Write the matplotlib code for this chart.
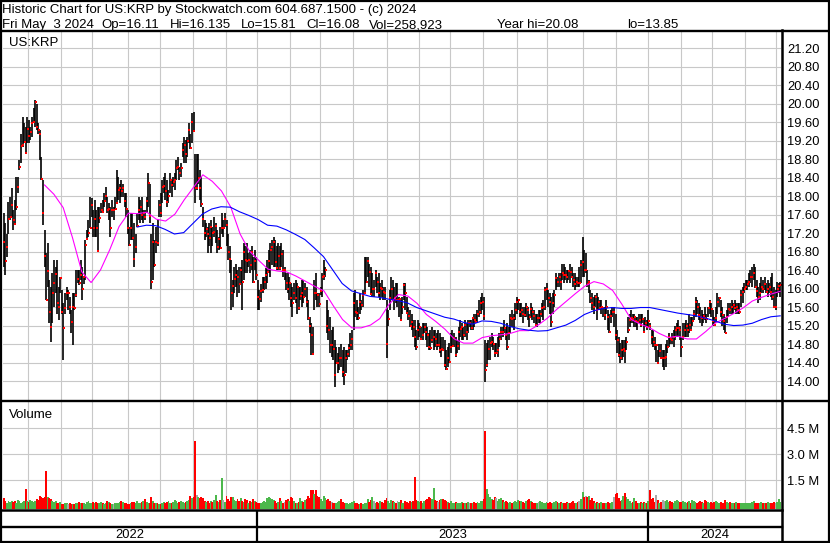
import numpy as np
import matplotlib
matplotlib.use("Agg")
import matplotlib.pyplot as plt
from matplotlib.patches import Rectangle

plt.rcParams['font.family'] = ['Liberation Sans', 'DejaVu Sans']

# ---------------- data ----------------
title1 = "Historic Chart for US:KRP by Stockwatch.com 604.687.1500 - (c) 2024"
# second header line, field by field with its left edge in pixels
title2 = [("Fri May  3 2024", 2), ("Op=16.11", 101), ("Hi=16.135", 170),
          ("Lo=15.81", 241), ("Cl=16.08", 306), ("Vol=258,923", 369),
          ("Year hi=20.08", 497), ("lo=13.85", 627)]
symbol = "US:KRP"

# trading days per month, May 2022 (partial) .. May 2024 (partial)
month_days = [16, 21, 20, 23, 20, 21, 21, 20,
              21, 19, 21, 22, 20, 20, 21, 22, 19, 23, 21, 20,
              21, 20, 21, 20, 3]
years = ['2022', '2023', '2024']
year_first_month = [0, 8, 20]

# daily high / low / close
hi = [17.63, 17.41, 17.19, 17.88, 17.99, 18.17, 17.70, 17.91, 18.42, 18.42,
      18.78, 19.35, 19.72, 19.57, 19.50, 19.72, 19.64, 19.50, 19.72, 19.90,
      20.08, 20.00, 19.57, 19.43, 18.85, 18.35, 17.27, 16.76, 16.98, 16.18,
      16.04, 16.33, 16.62, 16.47, 16.62, 16.04, 16.25, 15.97, 15.68, 15.90,
      16.04, 15.97, 15.82, 15.53, 15.90, 15.90, 16.40, 16.40, 16.40, 16.62,
      16.47, 16.26, 17.05, 17.27, 17.48, 17.99, 17.95, 17.70, 17.91, 17.70,
      17.77, 17.77, 17.84, 17.91, 18.06, 18.20, 17.99, 17.84, 17.77, 17.91,
      17.77, 17.99, 18.56, 18.42, 18.27, 18.35, 18.27, 18.06, 18.06, 17.70,
      17.34, 17.63, 17.63,
      17.41, 17.19, 17.63, 17.99, 17.91, 17.99, 17.70,
      17.70, 17.99, 18.49, 18.27, 17.19, 17.41, 17.05, 17.34, 17.48, 17.91,
      18.06, 18.35, 18.42, 18.49, 18.35, 18.13, 18.49, 18.35, 18.42, 18.49,
      18.78, 18.85, 18.63, 18.71, 19.14, 19.28, 19.21, 19.28, 19.57, 19.35,
      19.79, 19.82, 18.92, 18.92, 18.92, 18.56, 18.42, 17.77, 17.48, 17.41,
      17.34, 17.41, 17.48, 17.34, 17.55, 17.41, 17.27, 17.12, 17.34, 17.63,
      17.48, 17.63, 17.48, 17.19, 16.91, 16.62, 16.18, 16.47, 16.54, 16.40,
      16.47, 16.47, 16.62, 16.98, 16.91, 16.98, 16.76, 16.83, 16.91, 16.69,
      16.83, 16.69, 16.18,
      15.97, 16.10, 16.26, 16.26, 16.45, 16.62, 16.83,
      16.98, 17.05, 17.12, 17.05, 16.91, 16.98, 16.91, 16.98, 16.83, 16.47,
      16.33, 16.33, 16.26, 16.11, 16.04, 16.11, 16.18, 16.11, 16.04, 16.04,
      16.18, 16.18, 16.11, 16.04, 15.75, 15.39, 15.25, 15.17, 16.18, 16.33,
      15.90, 15.90, 16.04, 16.33, 16.62, 16.47, 15.75, 15.54, 15.39, 15.10,
      15.17, 14.89, 14.74, 14.60, 14.74, 14.81, 14.67, 14.74, 14.67, 14.67,
      14.81, 15.03, 15.10, 15.90, 15.97, 15.75, 15.61, 15.90, 15.75, 15.97,
      16.69, 16.69, 16.69, 16.54, 16.47, 16.33, 16.18, 16.40, 16.26, 16.33,
      16.11, 16.18, 16.04, 16.04, 15.75, 15.54, 15.97, 16.26, 16.18,
      16.04, 16.11, 16.11, 15.82, 15.75, 15.82, 16.11, 16.11, 15.82, 15.61, 15.54,
      15.46, 15.32, 15.32, 15.10, 15.32, 15.25, 15.17, 15.25, 15.25, 15.25,
      15.17, 15.03, 15.10, 15.17, 15.10, 15.10, 15.03, 15.10, 15.03, 14.96,
      14.96, 14.89, 14.67, 14.74, 14.82, 15.03, 15.10, 15.03, 14.96, 14.89,
      15.17, 15.32, 15.25, 15.17, 15.32, 15.25, 15.32, 15.32, 15.32, 15.39,
      15.46, 15.46, 15.54, 15.75, 15.82, 15.90, 15.82, 14.89, 14.82, 14.89,
      14.96, 15.03, 14.96, 14.82, 14.82, 14.96, 15.03, 15.17, 15.17, 15.32,
      15.17, 15.25, 15.17, 15.46, 15.54, 15.46, 15.68, 15.82, 15.78, 15.68,
      15.68, 15.61, 15.61,
      15.68, 15.61, 15.46, 15.68, 15.61, 15.54, 15.46,
      15.46, 15.54, 15.54, 15.68, 15.75, 16.04, 16.11, 15.97, 15.90, 15.82,
      15.90, 15.97, 16.33, 16.26, 16.33, 16.33, 16.54, 16.54, 16.47, 16.40,
      16.40, 16.54, 16.47, 16.33, 16.33, 16.26, 16.26, 16.47, 16.62, 17.12,
      16.83, 16.76, 16.40, 16.18, 15.97, 15.90, 15.82, 15.85, 15.90, 15.82,
      15.75, 15.75, 15.61, 15.61, 15.75, 15.54, 15.46, 15.54, 15.61, 15.61,
      15.46, 15.10, 14.96, 14.82, 14.89, 14.89, 14.89, 14.96, 15.39, 15.46,
      15.54, 15.46, 15.46, 15.39, 15.39, 15.46, 15.46, 15.46, 15.32, 15.39,
      15.32, 15.54,
      15.25, 15.10, 15.10, 14.96, 14.81, 14.67, 14.81, 14.81,
      14.67, 14.67, 14.81, 14.89, 15.03, 14.96, 15.03, 15.10, 15.18, 15.25,
      15.32, 15.18, 14.96, 15.25, 15.25, 15.32, 15.25, 15.46, 15.39, 15.39,
      15.54, 15.82, 15.75, 15.68, 15.61, 15.54, 15.46, 15.61, 15.46, 15.61,
      15.75, 15.68, 15.54, 15.39, 15.61, 15.90, 15.82, 15.75, 15.61, 15.46,
      15.39, 15.54, 15.68, 15.68, 15.75, 15.68, 15.75, 15.68, 15.68, 15.68,
      15.97, 16.04, 16.11, 16.18, 16.18, 16.33, 16.40, 16.47, 16.54, 16.47,
      16.18, 16.04, 16.11, 16.26, 16.18, 16.26, 16.11, 16.18, 16.11, 16.26,
      16.33, 16.04, 15.97, 16.15, 16.11, 16.135]

lo = [16.47, 16.29, 16.69, 17.19, 17.48, 17.55, 17.27, 17.37, 17.70, 18.06,
      18.56, 18.71, 19.07, 19.14, 18.92, 19.14, 19.14, 19.21, 19.28, 19.57,
      19.50, 19.43, 19.35, 18.78, 18.35, 17.37, 16.47, 15.75, 16.04, 15.25,
      14.85, 15.25, 15.61, 15.90, 15.46, 15.32, 15.90, 15.46, 14.45, 15.46,
      15.75, 15.53, 15.46, 15.03, 14.78, 15.53, 15.82, 16.11, 16.08, 16.18,
      15.75, 16.10, 16.18, 17.05, 17.12, 17.30, 17.55, 17.12, 17.12, 17.12,
      16.80, 17.41, 17.63, 17.63, 17.77, 17.91, 17.63, 17.48, 17.12, 17.55,
      17.48, 17.70, 17.84, 17.91, 17.84, 17.99, 17.99, 17.77, 17.55, 17.19,
      16.91, 17.05, 17.05,
      16.47, 16.76, 17.34, 17.48, 17.41, 17.48, 17.41,
      17.48, 17.63, 17.77, 17.41, 16.00, 16.18, 16.47, 16.76, 16.91, 17.55,
      17.55, 17.84, 18.06, 17.91, 17.77, 17.84, 18.06, 17.99, 18.20, 18.13,
      18.35, 18.56, 18.35, 18.42, 18.85, 18.71, 18.71, 18.85, 19.14, 19.02,
      19.14, 19.40, 17.84, 18.13, 18.27, 17.91, 17.77, 17.34, 17.05, 17.12,
      16.76, 16.91, 16.76, 16.91, 17.12, 16.98, 16.76, 16.83, 16.85, 17.19,
      17.12, 17.34, 16.91, 16.62, 16.33, 15.53, 15.61, 15.90, 16.04, 15.82,
      15.90, 16.11, 15.53, 16.18, 16.33, 16.33, 16.47, 16.33, 16.40, 16.12,
      16.40, 16.18, 15.53,
      15.54, 15.70, 15.90, 15.97, 16.00, 16.11, 16.33,
      16.26, 16.50, 16.47, 16.47, 16.40, 16.40, 16.40, 16.47, 16.26, 16.18,
      15.97, 15.90, 15.75, 15.61, 15.39, 15.75, 15.68, 15.46, 15.54, 15.75,
      15.61, 15.68, 15.82, 15.61, 15.32, 15.03, 14.56, 14.56, 15.54, 15.75,
      15.61, 15.61, 15.85, 15.82, 16.18, 16.26, 15.03, 14.89, 14.60, 14.53,
      14.46, 13.88, 14.36, 14.17, 14.24, 14.31, 14.09, 13.91, 14.17, 14.46,
      14.53, 14.67, 14.67, 15.10, 15.39, 15.32, 15.32, 15.46, 15.54, 15.61,
      15.88, 16.11, 16.26, 16.04, 15.86, 15.82, 15.82, 16.04, 15.90, 15.82,
      15.75, 15.82, 15.75, 15.75, 14.49, 15.18, 15.54, 15.75, 15.73,
      15.54, 15.68, 15.61, 15.39, 15.32, 15.46, 15.75, 15.54, 15.46, 15.32, 15.17,
      15.10, 14.96, 14.74, 14.67, 14.89, 14.96, 14.89, 14.89, 15.03, 14.89,
      14.74, 14.67, 14.67, 14.82, 14.67, 14.74, 14.67, 14.74, 14.60, 14.53,
      14.67, 14.31, 14.24, 14.31, 14.38, 14.60, 14.76, 14.74, 14.53, 14.60,
      14.67, 14.96, 14.89, 14.89, 14.96, 14.89, 15.03, 15.17, 15.10, 15.10,
      15.17, 15.25, 15.25, 15.39, 15.46, 15.54, 15.32, 13.99, 14.31, 14.46,
      14.46, 14.74, 14.67, 14.53, 14.58, 14.53, 14.74, 14.89, 14.96, 15.03,
      14.89, 14.67, 14.89, 15.03, 15.17, 15.10, 15.32, 15.46, 15.54, 15.39,
      15.39, 15.25, 15.39,
      15.39, 15.32, 15.17, 15.39, 15.32, 15.25, 15.17,
      15.17, 15.25, 15.25, 15.39, 15.32, 15.54, 15.75, 15.61, 15.46, 15.17,
      15.46, 15.61, 15.97, 16.04, 16.04, 15.97, 16.18, 16.11, 16.18, 16.11,
      16.18, 16.11, 16.22, 16.04, 15.97, 16.04, 16.04, 16.04, 16.11, 16.26,
      16.26, 16.33, 16.04, 15.90, 15.68, 15.54, 15.46, 15.61, 15.32, 15.54,
      15.54, 15.46, 15.39, 15.32, 15.46, 15.10, 15.03, 15.25, 15.39, 15.17,
      14.89, 14.60, 14.53, 14.38, 14.46, 14.53, 14.38, 14.67, 15.03, 15.17,
      15.25, 15.25, 15.17, 15.17, 15.10, 15.25, 15.17, 15.25, 15.03, 15.17,
      15.10, 15.17,
      15.10, 14.81, 14.74, 14.67, 14.42, 14.36, 14.53, 14.48,
      14.31, 14.24, 14.31, 14.60, 14.74, 14.81, 14.81, 14.74, 14.89, 14.96,
      14.96, 14.89, 14.53, 14.89, 14.96, 14.96, 14.96, 15.03, 15.08, 15.18,
      15.32, 15.39, 15.46, 15.32, 15.25, 15.18, 15.25, 15.32, 15.25, 15.39,
      15.46, 15.39, 15.18, 15.18, 15.25, 15.46, 15.61, 15.39, 15.18, 15.10,
      15.03, 15.25, 15.39, 15.46, 15.46, 15.46, 15.54, 15.46, 15.46, 15.46,
      15.61, 15.68, 15.90, 15.97, 15.97, 16.04, 16.11, 16.04, 16.18, 16.02,
      15.82, 15.68, 15.75, 15.90, 15.90, 15.97, 15.90, 15.82, 15.90, 15.82,
      15.75, 15.59, 15.54, 15.82, 15.90, 15.81]

cl = [17.00, 16.60, 16.90, 17.50, 17.54, 17.80, 17.48, 17.40, 17.77, 18.20,
      18.63, 19.08, 19.10, 19.17, 18.94, 19.46, 19.30, 19.39, 19.57, 19.60,
      20.04, 19.50, 19.43, 19.35, 18.37, 17.64, 16.70, 15.75, 16.38, 15.50,
      15.17, 15.90, 16.11, 16.31, 15.68, 15.60, 16.22, 15.50, 15.14, 15.57,
      15.90, 15.90, 15.60, 15.28, 15.60, 15.58, 15.86, 16.20, 16.11, 16.30,
      16.00, 16.24, 16.94, 17.08, 17.20, 17.32, 17.80, 17.32, 17.50, 17.32,
      16.82, 17.53, 17.70, 17.66, 17.90, 18.00, 17.70, 17.73, 17.30, 17.70,
      17.70, 17.72, 17.86, 18.13, 18.17, 18.10, 18.17, 17.90, 17.73, 17.32,
      16.94, 17.30, 17.10,
      16.64, 16.90, 17.35, 17.70, 17.77, 17.60, 17.63,
      17.55, 17.90, 18.29, 17.57, 16.15, 17.00, 16.52, 17.00, 16.98, 17.80,
      17.63, 18.20, 18.22, 18.10, 17.88, 18.00, 18.35, 18.24, 18.30, 18.35,
      18.60, 18.63, 18.50, 18.60, 19.00, 19.10, 18.92, 19.20, 19.43, 19.03,
      19.60, 19.41, 18.17, 18.17, 18.40, 18.17, 17.82, 17.50, 17.20, 17.29,
      17.18, 17.10, 17.34, 17.20, 17.23, 17.35, 16.90, 17.08, 16.87, 17.30,
      17.30, 17.50, 17.37, 16.80, 16.64, 15.90, 16.05, 16.20, 16.30, 16.26,
      16.10, 16.40, 16.15, 16.80, 16.62, 16.60, 16.62, 16.50, 16.78, 16.15,
      16.60, 16.30, 15.82,
      15.77, 15.95, 15.97, 16.15, 16.30, 16.36, 16.60,
      16.83, 16.90, 17.01, 16.58, 16.44, 16.70, 16.44, 16.74, 16.40, 16.40,
      16.11, 16.00, 16.11, 15.80, 15.69, 15.90, 15.80, 16.03, 15.59, 15.84,
      15.90, 15.82, 15.98, 15.70, 15.37, 15.20, 14.99, 14.58, 15.91, 15.90,
      15.86, 15.66, 15.95, 16.24, 16.28, 16.40, 15.20, 15.10, 14.78, 14.78,
      14.70, 14.12, 14.38, 14.40, 14.50, 14.49, 14.20, 14.12, 14.50, 14.58,
      14.71, 14.78, 14.90, 15.68, 15.50, 15.48, 15.36, 15.70, 15.64, 15.85,
      15.90, 16.15, 16.60, 16.36, 15.88, 16.00, 16.00, 16.33, 16.15, 15.91,
      16.02, 16.00, 15.93, 15.90, 14.81, 15.35, 15.79, 16.00, 15.75,
      15.80, 15.75, 15.75, 15.77, 15.33, 15.60, 16.07, 15.90, 15.48, 15.41, 15.19,
      15.28, 15.17, 14.96, 14.74, 15.10, 15.17, 14.92, 15.00, 15.17, 15.05,
      15.00, 14.74, 14.71, 14.89, 14.95, 14.90, 14.78, 14.78, 14.67, 14.70,
      14.67, 14.35, 14.27, 14.50, 14.42, 14.74, 14.76, 14.94, 14.56, 14.75,
      15.07, 15.12, 15.17, 15.00, 15.21, 15.07, 15.25, 15.25, 15.15, 15.36,
      15.32, 15.28, 15.46, 15.50, 15.69, 15.71, 15.40, 14.24, 14.35, 14.70,
      14.82, 14.85, 14.80, 14.60, 14.60, 14.67, 14.90, 15.07, 15.05, 15.15,
      15.00, 14.74, 15.03, 15.36, 15.35, 15.36, 15.54, 15.71, 15.75, 15.50,
      15.54, 15.45, 15.43,
      15.61, 15.54, 15.39, 15.55, 15.50, 15.40, 15.21,
      15.36, 15.36, 15.46, 15.57, 15.60, 15.97, 16.00, 15.80, 15.70, 15.28,
      15.68, 15.85, 16.22, 16.15, 16.24, 16.15, 16.33, 16.30, 16.29, 16.25,
      16.38, 16.36, 16.24, 16.18, 16.10, 16.15, 16.11, 16.11, 16.50, 16.58,
      16.40, 16.40, 16.10, 16.15, 15.80, 15.68, 15.60, 15.82, 15.54, 15.70,
      15.57, 15.60, 15.57, 15.43, 15.60, 15.39, 15.05, 15.40, 15.50, 15.50,
      15.00, 14.89, 14.56, 14.50, 14.67, 14.70, 14.66, 14.85, 15.10, 15.32,
      15.36, 15.35, 15.39, 15.30, 15.28, 15.32, 15.21, 15.35, 15.05, 15.25,
      15.17, 15.30,
      15.18, 14.95, 14.85, 14.78, 14.78, 14.38, 14.65, 14.49,
      14.49, 14.49, 14.53, 14.74, 14.96, 14.92, 14.89, 14.96, 15.10, 15.14,
      15.15, 15.10, 14.74, 14.96, 15.10, 15.20, 15.10, 15.21, 15.10, 15.30,
      15.45, 15.72, 15.60, 15.43, 15.38, 15.36, 15.40, 15.36, 15.35, 15.57,
      15.72, 15.55, 15.30, 15.21, 15.36, 15.72, 15.79, 15.50, 15.43, 15.30,
      15.04, 15.38, 15.55, 15.54, 15.60, 15.64, 15.57, 15.60, 15.54, 15.50,
      15.86, 15.93, 16.00, 16.03, 16.10, 16.15, 16.25, 16.26, 16.33, 16.04,
      15.95, 15.82, 15.90, 16.04, 16.00, 16.10, 15.93, 16.00, 16.04, 15.93,
      15.82, 15.61, 15.61, 16.00, 16.05, 16.08]

# daily volume, millions of shares
vol = [0.45, 0.30, 0.20, 0.28, 0.22, 0.32, 0.25, 0.30, 0.18, 0.35, 0.28, 0.20, 0.25, 0.30, 1.00, 0.30, 0.25, 0.35, 0.28, 0.22,
       0.30, 0.40, 0.35, 0.60, 0.55, 0.45, 0.50, 2.05, 0.50, 0.48, 0.40, 0.30, 0.25, 0.28, 0.20, 0.15, 0.22, 0.10, 0.12, 0.20,
       0.15, 0.10, 0.18, 0.10, 0.12, 0.10, 0.15, 0.18, 0.22, 0.15, 0.20, 0.18, 0.12, 0.25, 0.30, 0.20, 0.15, 0.25, 0.18, 0.22,
       0.15, 0.20, 0.25, 0.18, 0.12, 0.20, 0.30, 0.22, 0.15, 0.10, 0.12, 0.18, 0.15, 0.20, 0.25, 0.32, 0.22, 0.15, 0.20, 0.12,
       0.10, 0.15, 0.25, 0.22, 0.15, 0.30, 0.20, 0.18, 0.25, 0.30, 0.40, 0.25, 0.15, 0.20, 0.50, 0.30, 0.20, 0.15, 0.18, 0.12,
       0.10, 0.15, 0.22, 0.18, 0.25, 0.30, 0.20, 0.15, 0.22, 0.35, 0.28, 0.20, 0.25, 0.30, 0.22, 0.18, 0.25, 0.30, 0.35, 0.60,
       0.45, 0.55, 3.75, 0.65, 0.55, 0.45, 0.50, 0.45, 0.30, 0.25, 0.28, 0.20, 0.30, 0.25, 0.35, 0.65, 0.30, 0.25, 0.35, 1.60,
       0.35, 0.25, 0.60, 0.40, 0.30, 0.50, 0.55, 0.35, 0.30, 0.40, 0.28, 0.45, 0.30, 0.25, 0.40, 0.35, 0.20, 0.30, 0.25, 0.40,
       0.30, 0.25, 0.20, 0.18, 0.20, 0.22, 0.30, 0.25, 0.48, 0.50, 0.45, 0.40, 0.35, 0.30, 0.20, 0.25, 0.45, 0.30, 0.20, 0.25,
       0.35, 0.40, 0.30, 0.50, 0.45, 0.28, 0.20, 0.18, 0.25, 0.45, 0.30, 0.25, 0.35, 0.40, 0.60, 0.45, 0.95, 0.90, 0.70, 0.95,
       0.60, 0.55, 0.40, 0.30, 0.60, 0.45, 0.35, 0.40, 0.30, 0.25, 0.20, 0.20, 0.15, 0.22, 0.30, 0.40, 0.25, 0.20, 0.18, 0.15,
       0.10, 0.15, 0.22, 0.30, 0.20, 0.15, 0.10, 0.12, 0.15, 0.10, 0.18, 0.15, 0.40, 0.25, 0.35, 0.50, 0.30, 0.20, 0.25, 0.15,
       0.30, 0.25, 0.20, 0.35, 0.45, 0.30, 0.20, 0.35, 0.30, 0.25, 0.20, 0.30, 0.25, 0.35, 0.20, 0.15, 0.30, 0.25, 0.18, 0.28,
       0.22, 0.30, 1.70, 0.35, 0.30, 0.25, 0.30, 0.20, 0.30, 0.35, 0.40, 0.50, 0.45, 0.40, 1.05, 0.35, 0.30, 0.25, 0.35, 0.40,
       0.40, 0.35, 0.30, 0.25, 0.20, 0.30, 0.18, 0.15, 0.22, 0.18, 0.15, 0.20, 0.22, 0.18, 0.15, 0.20, 0.25, 0.18, 0.15, 0.20,
       0.25, 0.18, 0.22, 0.20, 0.28, 0.32, 0.40, 4.30, 1.00, 0.70, 0.55, 0.40, 0.35, 0.50, 0.45, 0.30, 0.40, 0.45, 0.35, 0.25,
       0.30, 0.25, 0.20, 0.22, 0.18, 0.25, 0.30, 0.22, 0.35, 0.30, 0.28, 0.25, 0.20, 0.30, 0.35, 0.40, 0.30, 0.25, 0.20, 0.15,
       0.20, 0.25, 0.30, 0.22, 0.15, 0.20, 0.25, 0.18, 0.22, 0.15, 0.20, 0.25, 0.30, 0.22, 0.18, 0.25, 0.20, 0.15, 0.20, 0.25,
       0.20, 0.15, 0.22, 0.30, 0.15, 0.20, 0.25, 0.30, 0.40, 0.83, 0.50, 0.60, 0.55, 0.60, 0.35, 0.45, 0.30, 0.20, 0.25, 0.18,
       0.15, 0.25, 0.20, 0.15, 0.18, 0.22, 0.15, 0.20, 0.25, 0.50, 0.70, 0.75, 0.45, 0.30, 0.35, 0.60, 0.75, 0.50, 0.40, 0.30,
       0.20, 0.25, 0.45, 0.30, 0.20, 0.15, 0.22, 0.18, 0.25, 0.20, 0.15, 0.30, 0.95, 0.40, 0.45, 0.25, 0.65, 0.35, 0.20, 0.25,
       0.35, 0.30, 0.28, 0.35, 0.22, 0.30, 0.25, 0.20, 0.30, 0.35, 0.28, 0.25, 0.22, 0.30, 0.25, 0.20, 0.25, 0.30, 0.20, 0.35,
       0.30, 0.25, 0.20, 0.22, 0.30, 0.25, 0.20, 0.35, 0.30, 0.25, 0.20, 0.22, 0.18, 0.25, 0.30, 0.22, 0.20, 0.25, 0.20, 0.18,
       0.35, 0.25, 0.20, 0.22, 0.18, 0.15, 0.20, 0.25, 0.18, 0.15, 0.20, 0.18, 0.15, 0.20, 0.18, 0.15, 0.20, 0.25, 0.28, 0.20,
       0.18, 0.15, 0.20, 0.25, 0.15, 0.20, 0.18, 0.22, 0.15, 0.20, 0.18, 0.25, 0.20, 0.22, 0.40, 0.26]

# moving averages as drawn (magenta = short, blue = long), sampled evenly
ma_short_span = (26, 495)
ma_short = [18.24, 18.04, 17.75, 17.10, 16.36, 16.13, 16.40, 16.84, 17.34, 17.63,
            17.62, 17.65, 17.50, 17.46, 17.61, 17.92, 18.19, 18.46, 18.32, 18.11,
            17.76, 17.18, 16.81, 16.61, 16.42, 16.38, 16.36, 16.27, 16.16, 16.05,
            15.95, 15.63, 15.33, 15.15, 15.15, 15.21, 15.35, 15.66, 15.87, 15.84,
            15.68, 15.44, 15.29, 15.12, 14.91, 14.82, 14.82, 14.94, 14.98, 15.00,
            15.03, 15.09, 15.09, 15.21, 15.36, 15.55, 15.72, 15.89, 16.05, 16.15,
            16.10, 15.96, 15.66, 15.33, 15.23, 15.15, 15.03, 14.94, 14.97, 14.91,
            14.91, 15.07, 15.25, 15.35, 15.46, 15.58, 15.73, 15.81, 15.88, 15.94]
ma_long_span = (85, 495)
ma_long = [17.33, 17.37, 17.36, 17.28, 17.18, 17.21, 17.41, 17.61, 17.72, 17.77,
           17.76, 17.66, 17.58, 17.49, 17.37, 17.35, 17.27, 17.17, 17.06, 16.88,
           16.69, 16.40, 16.11, 15.95, 15.89, 15.83, 15.81, 15.77, 15.74, 15.69,
           15.59, 15.52, 15.45, 15.38, 15.34, 15.27, 15.23, 15.30, 15.29, 15.25,
           15.18, 15.13, 15.10, 15.08, 15.09, 15.15, 15.21, 15.31, 15.44, 15.52,
           15.57, 15.59, 15.57, 15.57, 15.59, 15.59, 15.55, 15.51, 15.47, 15.44,
           15.41, 15.36, 15.30, 15.23, 15.20, 15.21, 15.25, 15.33, 15.39, 15.41]

# ---------------- layout (pixels of the 830x543 picture) ----------------
W, H = 830, 543
GRID = '#c8c8c8'
FS = 9.3


def box(x0, y0, x1, y1):
    return [x0 / W, 1 - y1 / H, (x1 - x0) / W, (y1 - y0) / H]


hi = np.array(hi)
lo = np.array(lo)
cl = np.array(cl)
vol = np.array(vol)
days = np.arange(len(cl))
month_start = np.cumsum([0] + month_days[:-1])
year_start = [month_start[m] for m in year_first_month] + [len(cl)]

fig = plt.figure(figsize=(W / 100, H / 100), dpi=100)

# price pane
ax = fig.add_axes(box(3, 31, 781, 400))
ax.vlines(days, lo, hi, color='black', linewidth=1.2)
ax.plot(days + 0.3, cl, 's', color='red', markersize=1.6, markeredgewidth=0)
ax.plot(np.linspace(*ma_short_span, len(ma_short)), ma_short, color='#ff00ff', linewidth=0.8)
ax.plot(np.linspace(*ma_long_span, len(ma_long)), ma_long, color='#0000ff', linewidth=0.8)
ax.set_xlim(-0.5, len(cl) - 0.5)
ax.set_ylim(13.59, 21.57)
ax.set_yticks(np.arange(14.0, 21.21, 0.4))
ax.yaxis.tick_right()
ax.yaxis.set_major_formatter('{x:.2f}')
ax.tick_params(axis='y', length=0, pad=4.5, labelsize=FS)
ax.set_xticks(month_start[1:] - 0.5)
ax.tick_params(axis='x', length=0, labelbottom=False)
ax.grid(True, color=GRID, linewidth=0.8)
ax.set_axisbelow(True)
for s in ax.spines.values():
    s.set_visible(False)

# volume pane, bars coloured by the day's move
av = fig.add_axes(box(3, 402, 781, 509), sharex=ax)
move = np.diff(cl, prepend=cl[0] + 1)
vcol = np.where(move > 0, '#4cb84c', np.where(move < 0, '#ff0000', '#a8a8a8'))
vbot = -0.17
av.bar(days, vol - vbot, bottom=vbot, width=1.25, color=vcol, linewidth=0, antialiased=False)
av.set_ylim(vbot, 6.0)
av.set_yticks([1.5, 3.0, 4.5])
av.set_yticklabels(['1.5 M', '3.0 M', '4.5 M'])
av.yaxis.tick_right()
av.tick_params(axis='y', length=0, pad=4.5, labelsize=FS)
av.tick_params(axis='x', length=0, labelbottom=False)
av.grid(True, color=GRID, linewidth=0.8)
av.set_axisbelow(True)
for s in av.spines.values():
    s.set_visible(False)

# date rows under the chart
for y0, y1, with_labels in [(511, 526, False), (528, 541, True)]:
    r = fig.add_axes(box(3, y0, 781, y1), sharex=ax)
    r.axis('off')
    r.set_ylim(0, 1)
    for b in year_start[1:-1]:
        r.axvline(b - 0.5, color='black', linewidth=1.6)
    if with_labels:
        for k, yr in enumerate(years):
            mid = (year_start[k] + year_start[k + 1]) / 2 - 0.5
            r.text(mid, 0.45, yr, ha='center', va='center', fontsize=FS)

# frame lines and text
fr = fig.add_axes([0, 0, 1, 1], zorder=10)
fr.set_xlim(0, W)
fr.set_ylim(H, 0)
fr.axis('off')
fr.add_patch(Rectangle((1, 1), W - 2, H - 2, fill=False, edgecolor='black', linewidth=1.6))
fr.plot([0, W], [30.5, 30.5], color='black', linewidth=1.7)
fr.plot([0, W], [400.7, 400.7], color='black', linewidth=1.7)
fr.plot([782, 782], [30, H], color='black', linewidth=1.8)
fr.plot([0, 782], [510.3, 510.3], color='black', linewidth=1.8)
fr.plot([0, 782], [527.2, 527.2], color='black', linewidth=1.7)

fr.text(2, 13.5, title1, va='baseline', ha='left', fontsize=9.5)
for txt, x in title2:
    fr.text(x, 28, txt, va='baseline', ha='left', fontsize=9.5)
fr.text(9, 46.5, symbol, va='baseline', ha='left', fontsize=9.5)
fr.text(9, 418, 'Volume', va='baseline', ha='left', fontsize=9.5)

fig.savefig('out.png', dpi=100)
